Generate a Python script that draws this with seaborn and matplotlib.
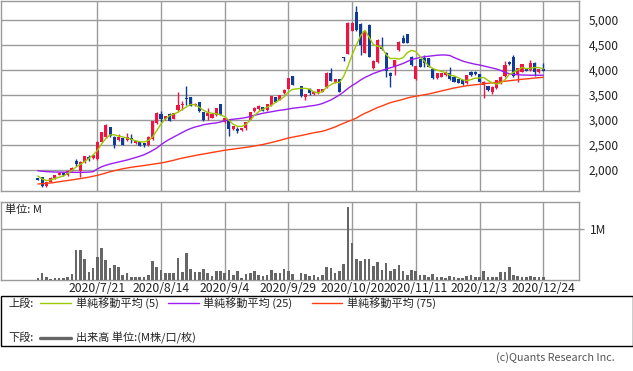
import numpy as np
import pandas as pd
import matplotlib
matplotlib.use("Agg")
import matplotlib.pyplot as plt
from matplotlib.patches import Rectangle
from matplotlib.lines import Line2D
import seaborn as sns

# ---------------- data ----------------
holidays = ["2020-07-23", "2020-07-24", "2020-08-10", "2020-09-21",
            "2020-09-22", "2020-11-03", "2020-11-23"]
all_days = pd.bdate_range("2020-07-01", "2020-12-24")
dates = all_days[~all_days.isin(pd.to_datetime(holidays))]

nan = np.nan
opens = [1840, 1850, 1670, 1770, 1840, 1910, 1945, 1900, 1990, 2190,
         1990, 2160, 2270, 2240, 2220, 2567, 2650, 2855, 2670, 2590,
         2640, 2600, 2645, 2540, 2555, 2540, 2500, 2620, 2930, 3110,
         3010, 3125, 3025, 3195, 3300, 3440, 3455, 3295, 3355, 3160,
         3085, 3045, 3100, 3315, 2960, 3010, 2820, 2825, 2795, 2845,
         3005, 3175, 3215, 3260, 3195, 3300, 3460, 3410, 3540, 3630,
         3875, nan, 3680, 3470, 3613, 3520, 3533, 3567, 3653, 3947,
         3747, 3813, 4260, 4330, 4787, 5167, 4920, 4350, 4900, 4040,
         4160, 4470, 4350, 3947, 4067, 4400, 4640, 4713, 4267, 3813,
         4210, 4233, 4233, 4013, 3833, 3867, 3900, 3933, 3867, 3813,
         3800, 3733, 3967, 3967, 3920, 3700, 3680, 3567, 3633, 3733,
         3880, 4167, 4253, 3900, 3967, 4033, 4000, 4140, 3953, 4013]
closes = [1810, 1680, 1760, 1850, 1900, 1940, 1900, 1985, 2045, 2120,
          2170, 2280, 2215, 2300, 2567, 2750, 2890, 2670, 2505, 2655,
          2505, 2655, 2590, 2575, 2490, 2505, 2667, 2973, 3145, 3010,
          3080, 2985, 3140, 3295, 3330, 3415, 3285, 3330, 3175, 3000,
          3145, 3110, 3240, 3105, 3035, 2820, 2880, 2780, 2830, 2950,
          3150, 3245, 3290, 3190, 3320, 3480, 3370, 3500, 3605, 3840,
          3705, nan, 3480, 3513, 3533, 3567, 3613, 3613, 3947, 3787,
          3813, 3567, 4250, 4940, 4933, 4800, 4500, 4787, 4267, 4185,
          4600, 4413, 3990, 3880, 4200, 4567, 4547, 4547, 4100, 4080,
          4067, 4150, 4067, 3833, 3933, 3933, 3967, 3813, 3767, 3747,
          3720, 3900, 3900, 3920, 3767, 3767, 3600, 3667, 3800, 3867,
          4100, 4120, 3880, 4033, 4120, 3987, 4147, 3967, 4020, 3990]
highs = [1850, 1860, 1770, 1860, 1910, 1970, 1960, 1995, 2060, 2230,
         2180, 2290, 2300, 2310, 2580, 2760, 2920, 2870, 2680, 2720,
         2650, 2750, 2720, 2590, 2570, 2550, 2680, 2990, 3170, 3180,
         3090, 3135, 3150, 3570, 3375, 3680, 3465, 3345, 3365, 3170,
         3240, 3120, 3250, 3325, 3050, 3020, 2890, 2860, 2845, 2960,
         3160, 3255, 3300, 3270, 3330, 3490, 3470, 3510, 3615, 3850,
         3885, nan, 3690, 3520, 3650, 3580, 3625, 3625, 3960, 4033,
         3825, 3825, 4265, 4960, 4970, 5280, 4935, 4800, 4930, 4195,
         4620, 4660, 4360, 3960, 4210, 4580, 4700, 4725, 4280, 4090,
         4220, 4300, 4245, 4025, 3945, 3945, 3980, 4053, 3880, 3825,
         3810, 3910, 3980, 3975, 3930, 3775, 3690, 3675, 3810, 3880,
         4190, 4175, 4300, 4045, 4130, 4045, 4210, 4160, 4030, 4140]
lows = [1800, 1670, 1660, 1760, 1830, 1900, 1890, 1890, 1980, 2080,
        1870, 2150, 2190, 2230, 2200, 2560, 2640, 2660, 2440, 2580,
        2500, 2590, 2550, 2530, 2480, 2470, 2490, 2600, 2920, 2970,
        3000, 2975, 3015, 3185, 3200, 3300, 3275, 3285, 3165, 2990,
        3010, 3035, 3090, 3095, 2950, 2690, 2810, 2740, 2785, 2800,
        2995, 3165, 3205, 3180, 3185, 3290, 3360, 3400, 3530, 3620,
        3695, nan, 3460, 3400, 3500, 3510, 3520, 3555, 3640, 3775,
        3735, 3555, 4190, 4320, 4780, 4790, 4300, 4340, 4255, 4030,
        4150, 4400, 3853, 3653, 3900, 4390, 4535, 4535, 4090, 3800,
        4055, 4067, 4055, 3820, 3820, 3855, 3890, 3800, 3755, 3735,
        3705, 3720, 3890, 3910, 3755, 3450, 3590, 3520, 3620, 3720,
        3870, 4110, 3860, 3770, 3955, 3975, 3990, 3880, 3945, 3975]

ma5 = [1880, 1820, 1790, 1800, 1830, 1855, 1880, 1930, 1990, 2060,
       2110, 2170, 2230, 2300, 2390, 2520, 2630, 2700, 2705, 2680,
       2660, 2640, 2615, 2585, 2565, 2560, 2590, 2660, 2790, 2920,
       3020, 3085, 3120, 3155, 3210, 3265, 3310, 3305, 3255, 3195,
       3150, 3135, 3125, 3105, 3065, 2995, 2915, 2875, 2870, 2915,
       2995, 3095, 3165, 3215, 3255, 3295, 3355, 3405, 3465, 3560,
       3613, nan, 3633, 3633, 3617, 3561, 3541, 3568, 3655, 3705,
       3755, 3745, 3873, 4071, 4301, 4498, 4685, 4792, 4657, 4508,
       4475, 4457, 4307, 4229, 4232, 4219, 4245, 4348, 4392, 4368,
       4268, 4179, 4083, 4029, 4000, 3973, 3947, 3896, 3883, 3845,
       3803, 3789, 3807, 3837, 3841, 3851, 3791, 3744, 3720, 3740,
       3807, 3911, 3953, 4000, 4051, 4028, 4033, 4051, 4048, 4022]
ma25 = [1985, 1975, 1968, 1963, 1960, 1958, 1955, 1955, 1953, 1953,
        1953, 1955, 1958, 1967, 2020, 2065, 2095, 2120, 2140, 2160,
        2180, 2200, 2225, 2250, 2275, 2305, 2345, 2390, 2440, 2505,
        2565, 2615, 2660, 2705, 2750, 2795, 2830, 2860, 2880, 2905,
        2920, 2932, 2942, 2960, 2985, 3005, 3015, 3025, 3035, 3050,
        3070, 3095, 3115, 3135, 3150, 3165, 3180, 3195, 3205, 3220,
        3235, nan, 3255, 3265, 3280, 3290, 3305, 3330, 3365, 3400,
        3450, 3500, 3560, 3630, 3690, 3740, 3800, 3850, 3890, 3930,
        3960, 3990, 4020, 4045, 4070, 4100, 4130, 4170, 4210, 4230,
        4250, 4265, 4275, 4285, 4295, 4300, 4300, 4290, 4250, 4215,
        4180, 4155, 4135, 4115, 4100, 4080, 4060, 4040, 4020, 3990,
        3955, 3925, 3910, 3905, 3900, 3898, 3895, 3895, 3895, 3895]
ma75 = [1720, 1727, 1733, 1740, 1752, 1765, 1778, 1790, 1802, 1815,
        1828, 1842, 1857, 1875, 1893, 1915, 1940, 1965, 1985, 2005,
        2025, 2040, 2055, 2067, 2078, 2090, 2102, 2115, 2128, 2140,
        2157, 2175, 2195, 2217, 2238, 2255, 2272, 2290, 2306, 2320,
        2335, 2350, 2365, 2380, 2395, 2407, 2418, 2430, 2442, 2453,
        2465, 2480, 2495, 2510, 2530, 2550, 2570, 2593, 2617, 2640,
        2657, nan, 2690, 2708, 2727, 2745, 2760, 2775, 2800, 2830,
        2860, 2900, 2935, 2970, 3000, 3040, 3090, 3133, 3170, 3210,
        3250, 3280, 3315, 3347, 3370, 3390, 3413, 3440, 3460, 3475,
        3490, 3505, 3520, 3540, 3560, 3580, 3600, 3620, 3640, 3655,
        3670, 3685, 3695, 3705, 3713, 3725, 3735, 3745, 3755, 3765,
        3775, 3785, 3795, 3805, 3815, 3822, 3830, 3840, 3847, 3853]

volume_m = [0.040, 0.136, 0.058, 0.026, 0.045, 0.045, 0.045, 0.058, 0.117, 0.584,
            0.584, 0.409, 0.162, 0.234, 0.448, 0.623, 0.390, 0.234, 0.286, 0.260,
            0.097, 0.136, 0.058, 0.058, 0.058, 0.058, 0.097, 0.370, 0.253, 0.195,
            0.136, 0.136, 0.136, 0.429, 0.162, 0.526, 0.214, 0.162, 0.162, 0.214,
            0.136, 0.084, 0.175, 0.175, 0.136, 0.195, 0.097, 0.175, 0.045, 0.123,
            0.136, 0.175, 0.097, 0.084, 0.097, 0.195, 0.136, 0.136, 0.214, 0.175,
            0.117, 0.000, 0.136, 0.117, 0.084, 0.097, 0.052, 0.091, 0.247, 0.227,
            0.143, 0.175, 0.312, 1.429, 0.727, 0.409, 0.377, 0.409, 0.409, 0.273,
            0.351, 0.195, 0.338, 0.182, 0.214, 0.292, 0.175, 0.097, 0.195, 0.175,
            0.097, 0.097, 0.052, 0.117, 0.065, 0.058, 0.039, 0.071, 0.058, 0.045,
            0.039, 0.071, 0.091, 0.052, 0.065, 0.175, 0.052, 0.052, 0.052, 0.149,
            0.149, 0.253, 0.097, 0.071, 0.058, 0.058, 0.071, 0.058, 0.058, 0.052]

tick_dates = ["2020-07-21", "2020-08-14", "2020-09-04", "2020-09-29",
              "2020-10-20", "2020-11-11", "2020-12-03", "2020-12-24"]
tick_labels = ["2020/7/21", "2020/8/14", "2020/9/4", "2020/9/29",
               "2020/10/20", "2020/11/11", "2020/12/3", "2020/12/24"]
price_ticks = [2000, 2500, 3000, 3500, 4000, 4500, 5000]

# ---------------- style ----------------
sns.set_theme(style="white")
plt.rcParams["font.family"] = ["Noto Sans CJK JP", "DejaVu Sans"]

RED = "#EE1543"
BLUE = "#0F3C98"
C_MA5 = "#9CC800"
C_MA25 = "#9B1DF0"
C_MA75 = "#FF3D10"
GRID = "#9A9A9A"
VOL = "#666666"
TXT = "#222222"

W, H = 633, 371
fig = plt.figure(figsize=(W / 100, H / 100), dpi=100)


def box(l, t, r, b):
    return [l / W, 1 - b / H, (r - l) / W, (b - t) / H]


def fx(x):
    return x / W


def fy(y):
    return 1 - y / H


ax1 = fig.add_axes(box(0.5, 0.5, 579.3, 190.7))
ax2 = fig.add_axes(box(0.5, 201.7, 579.3, 280.0))

df = pd.DataFrame({"date": dates, "open": opens, "high": highs, "low": lows,
                   "close": closes, "ma5": ma5, "ma25": ma25, "ma75": ma75,
                   "vol": volume_m})
df["pos"] = np.arange(len(df))
tick_pos = [int(df.index[df["date"] == pd.Timestamp(d)][0]) for d in tick_dates]

# ---------------- upper panel ----------------
for y in price_ticks:
    ax1.axhline(y, color=GRID, lw=1.0, zorder=0)
for p in tick_pos:
    ax1.axvline(p, color=GRID, lw=1.0, zorder=0)

valid = df.dropna(subset=["open"])
up = valid["close"] >= valid["open"]
cols = np.where(up, RED, BLUE)
ax1.vlines(valid["pos"], valid["low"], valid["high"], colors=cols, lw=1.0, zorder=2)
body_bottom = np.minimum(valid["open"], valid["close"])
body_h = np.maximum(np.abs(valid["close"] - valid["open"]), 18)
ax1.bar(valid["pos"], body_h, bottom=body_bottom, width=0.72, color=cols,
        linewidth=0, zorder=3)

for col, c in [("ma75", C_MA75), ("ma25", C_MA25), ("ma5", C_MA5)]:
    d = df.dropna(subset=[col])
    sns.lineplot(x=d["pos"].values, y=d[col].values, ax=ax1, color=c, lw=1.0,
                 estimator=None, sort=False, zorder=4)

ax1.set_xlim(-8.8, 127.5)
ax1.set_ylim(1586, 5390)
ax1.yaxis.tick_right()
ax1.set_yticks(price_ticks)
ax1.set_yticklabels([f"{v:,}" for v in price_ticks])
ax1.tick_params(axis="y", length=0, pad=6.8, labelsize=8.6, colors=TXT)
ax1.set_xticks([])
for s in ax1.spines.values():
    s.set_color(GRID)
    s.set_linewidth(1.0)
ax1.set_xlabel("")
ax1.set_ylabel("")

# ---------------- lower panel ----------------
ax2.axhline(1.0, color=GRID, lw=1.0, zorder=0)
for p in tick_pos:
    ax2.axvline(p, color=GRID, lw=1.0, zorder=0)
sns.barplot(x="pos", y="vol", data=df, ax=ax2, color=VOL, saturation=1,
            width=0.62, native_scale=True, linewidth=0, zorder=3)
ax2.set_xlim(-8.8, 127.5)
ax2.set_ylim(0, 1.526)
ax2.yaxis.tick_right()
ax2.set_yticks([1.0])
ax2.set_yticklabels(["1M"])
ax2.tick_params(axis="y", length=3.6, width=1, color=GRID, pad=3.8,
                labelsize=8.6, labelcolor=TXT)
ax2.set_xticks(tick_pos)
ax2.set_xticklabels(tick_labels)
ax2.tick_params(axis="x", length=0, pad=1.6, labelsize=8.8, colors=TXT)
for s in ax2.spines.values():
    s.set_color(GRID)
    s.set_linewidth(1.0)
ax2.set_xlabel("")
ax2.set_ylabel("")
fig.text(fx(5), fy(209.5), "単位: M", fontsize=8, color=TXT, va="center", ha="left")

# ---------------- legend box ----------------
fig.patches.append(Rectangle((fx(0.5), fy(346.3)), fx(632.0), fy(296) - fy(346.3),
                             transform=fig.transFigure, fill=False,
                             edgecolor="#000000", lw=1.0))
ly1, ly2 = 303.3, 337.5
fig.text(fx(8), fy(ly1), "上段:", fontsize=8, color=TXT, va="center", ha="left")
fig.text(fx(8), fy(ly2), "下段:", fontsize=8, color=TXT, va="center", ha="left")
for (x0, x1, c, tx, label) in [(40, 71, C_MA5, 75.5, "単純移動平均 (5)"),
                               (167.5, 198.6, C_MA25, 203, "単純移動平均 (25)"),
                               (312, 342, C_MA75, 347, "単純移動平均 (75)")]:
    fig.lines.append(Line2D([fx(x0), fx(x1)], [fy(ly1), fy(ly1)],
                            transform=fig.transFigure, color=c, lw=1.0))
    fig.text(fx(tx), fy(ly1), label, fontsize=8, color=TXT, va="center", ha="left")
fig.lines.append(Line2D([fx(40), fx(71)], [fy(ly2), fy(ly2)],
                        transform=fig.transFigure, color=VOL, lw=2.4))
fig.text(fx(75.5), fy(ly2), "出来高 単位:(M株/口/枚)", fontsize=8, color=TXT,
         va="center", ha="left")
fig.text(fx(614.5), fy(357.7), "(c)Quants Research Inc.", fontsize=7.8,
         color="#555555", va="center", ha="right")

fig.savefig("out.png", dpi=100)
